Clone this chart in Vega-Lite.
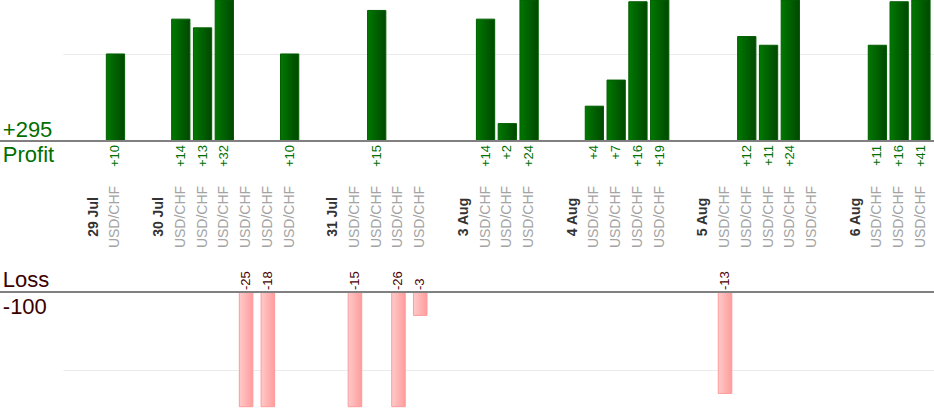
{
  "$schema": "https://vega.github.io/schema/vega-lite/v6.json",
  "width": 934,
  "height": 420,
  "padding": 0,
  "autosize": "none",
  "config": {
    "view": {"stroke": null},
    "font": "Liberation Sans",
    "text": {"font": "Liberation Sans"}
  },
  "data": {
    "values": [
      {"slot": 1, "kind": "day", "label": "29 Jul"},
      {"slot": 2, "kind": "trade", "label": "USD/CHF", "pnl": 10},
      {"slot": 4, "kind": "day", "label": "30 Jul"},
      {"slot": 5, "kind": "trade", "label": "USD/CHF", "pnl": 14},
      {"slot": 6, "kind": "trade", "label": "USD/CHF", "pnl": 13},
      {"slot": 7, "kind": "trade", "label": "USD/CHF", "pnl": 32},
      {"slot": 8, "kind": "trade", "label": "USD/CHF", "pnl": -25},
      {"slot": 9, "kind": "trade", "label": "USD/CHF", "pnl": -18},
      {"slot": 10, "kind": "trade", "label": "USD/CHF", "pnl": 10},
      {"slot": 12, "kind": "day", "label": "31 Jul"},
      {"slot": 13, "kind": "trade", "label": "USD/CHF", "pnl": -15},
      {"slot": 14, "kind": "trade", "label": "USD/CHF", "pnl": 15},
      {"slot": 15, "kind": "trade", "label": "USD/CHF", "pnl": -26},
      {"slot": 16, "kind": "trade", "label": "USD/CHF", "pnl": -3},
      {"slot": 18, "kind": "day", "label": "3 Aug"},
      {"slot": 19, "kind": "trade", "label": "USD/CHF", "pnl": 14},
      {"slot": 20, "kind": "trade", "label": "USD/CHF", "pnl": 2},
      {"slot": 21, "kind": "trade", "label": "USD/CHF", "pnl": 24},
      {"slot": 23, "kind": "day", "label": "4 Aug"},
      {"slot": 24, "kind": "trade", "label": "USD/CHF", "pnl": 4},
      {"slot": 25, "kind": "trade", "label": "USD/CHF", "pnl": 7},
      {"slot": 26, "kind": "trade", "label": "USD/CHF", "pnl": 16},
      {"slot": 27, "kind": "trade", "label": "USD/CHF", "pnl": 19},
      {"slot": 29, "kind": "day", "label": "5 Aug"},
      {"slot": 30, "kind": "trade", "label": "USD/CHF", "pnl": -13},
      {"slot": 31, "kind": "trade", "label": "USD/CHF", "pnl": 12},
      {"slot": 32, "kind": "trade", "label": "USD/CHF", "pnl": 11},
      {"slot": 33, "kind": "trade", "label": "USD/CHF", "pnl": 24},
      {"slot": 34, "kind": "trade", "label": "USD/CHF", "pnl": 0},
      {"slot": 36, "kind": "day", "label": "6 Aug"},
      {"slot": 37, "kind": "trade", "label": "USD/CHF", "pnl": 11},
      {"slot": 38, "kind": "trade", "label": "USD/CHF", "pnl": 16},
      {"slot": 39, "kind": "trade", "label": "USD/CHF", "pnl": 41}
    ]
  },
  "layer": [
    {
      "layer": [
        {
          "transform": [{"filter": "datum.pnl > 0"}],
          "mark": {
            "type": "bar",
            "fill": {
              "gradient": "linear",
              "x1": 0, "y1": 0, "x2": 1, "y2": 0,
              "stops": [
                {"offset": 0, "color": "#007800"},
                {"offset": 1, "color": "#004800"}
              ]
            },
            "stroke": "#005e00",
            "strokeWidth": 1
          },
          "encoding": {
            "x": {
              "field": "slot",
              "type": "ordinal",
              "axis": null,
              "scale": {
                "domain": [0, 1, 2, 3, 4, 5, 6, 7, 8, 9, 10, 11, 12, 13, 14, 15, 16, 17, 18, 19,
                           20, 21, 22, 23, 24, 25, 26, 27, 28, 29, 30, 31, 32, 33, 34, 35, 36, 37, 38, 39],
                "range": [62.8, 934],
                "paddingInner": 0.16,
                "paddingOuter": 0.09,
                "align": 0
              }
            },
            "y": {
              "field": "pnl",
              "type": "quantitative",
              "title": null,
              "scale": {"domain": [0, 16.2], "range": [141, 0], "clamp": true, "nice": false, "zero": true},
              "axis": {
                "orient": "left",
                "values": [10],
                "grid": true,
                "gridColor": "#ebebeb",
                "labels": false,
                "ticks": false,
                "domain": false,
                "title": null
              }
            }
          }
        },
        {
          "transform": [{"filter": "datum.pnl > 0"}],
          "mark": {"type": "text", "angle": 270, "align": "right", "baseline": "middle", "dx": -4, "fontSize": 13, "color": "#007000"},
          "encoding": {
            "x": {"field": "slot", "type": "ordinal"},
            "y": {"datum": 0, "type": "quantitative"},
            "text": {"field": "pnl", "type": "quantitative", "format": "+d"}
          }
        },
        {
          "transform": [{"filter": "datum.kind == 'day'"}],
          "mark": {"type": "text", "angle": 270, "align": "center", "baseline": "middle", "dx": -76, "fontSize": 14, "fontWeight": "bold", "color": "#333333"},
          "encoding": {
            "x": {"field": "slot", "type": "ordinal"},
            "y": {"datum": 0, "type": "quantitative"},
            "text": {"field": "label"}
          }
        },
        {
          "transform": [{"filter": "datum.kind == 'trade'"}],
          "mark": {"type": "text", "angle": 270, "align": "center", "baseline": "middle", "dx": -76, "fontSize": 14, "color": "#a3a3a3"},
          "encoding": {
            "x": {"field": "slot", "type": "ordinal"},
            "y": {"datum": 0, "type": "quantitative"},
            "text": {"field": "label"}
          }
        },
        {
          "mark": {"type": "rule", "color": "#808080", "strokeWidth": 1.5},
          "encoding": {"y": {"datum": 0, "type": "quantitative"}}
        },
        {
          "transform": [
            {"filter": "datum.pnl > 0"},
            {"aggregate": [{"op": "sum", "field": "pnl", "as": "total"}]}
          ],
          "encoding": {
            "x": {"datum": 0, "type": "ordinal", "bandPosition": 0},
            "y": {"datum": 0, "type": "quantitative"}
          },
          "layer": [
            {
              "mark": {"type": "text", "align": "left", "baseline": "alphabetic", "dx": -60, "dy": -4, "fontSize": 22, "color": "#006f00"},
              "encoding": {"text": {"field": "total", "type": "quantitative", "format": "+d"}}
            },
            {
              "mark": {"type": "text", "align": "left", "baseline": "alphabetic", "dx": -60, "dy": 21, "fontSize": 22, "color": "#006f00"},
              "encoding": {"text": {"value": "Profit"}}
            }
          ]
        }
      ]
    },
    {
      "layer": [
        {
          "transform": [{"filter": "datum.pnl < 0"}],
          "mark": {
            "type": "bar",
            "width": {"band": 0.74},
            "fill": {
              "gradient": "linear",
              "x1": 0, "y1": 0, "x2": 1, "y2": 0,
              "stops": [
                {"offset": 0, "color": "#ffcaca"},
                {"offset": 1, "color": "#ff9c9c"}
              ]
            },
            "stroke": "#ff9a9a",
            "strokeWidth": 1
          },
          "encoding": {
            "x": {"field": "slot", "type": "ordinal"},
            "y": {
              "field": "pnl",
              "type": "quantitative",
              "title": null,
              "scale": {"domain": [-14.7, 0], "range": [406.7, 292], "clamp": true, "nice": false, "zero": true},
              "axis": {
                "orient": "left",
                "values": [-10],
                "grid": true,
                "gridColor": "#ebebeb",
                "labels": false,
                "ticks": false,
                "domain": false,
                "title": null
              }
            }
          }
        },
        {
          "transform": [{"filter": "datum.pnl < 0"}],
          "mark": {"type": "text", "angle": 270, "align": "left", "baseline": "middle", "dx": 2, "fontSize": 13, "color": "#4a0000"},
          "encoding": {
            "x": {"field": "slot", "type": "ordinal"},
            "y": {"datum": 0, "type": "quantitative"},
            "text": {"field": "pnl", "type": "nominal"}
          }
        },
        {
          "mark": {"type": "rule", "color": "#808080", "strokeWidth": 1.5},
          "encoding": {"y": {"datum": 0, "type": "quantitative"}}
        },
        {
          "transform": [
            {"filter": "datum.pnl < 0"},
            {"aggregate": [{"op": "sum", "field": "pnl", "as": "total"}]}
          ],
          "encoding": {
            "x": {"datum": 0, "type": "ordinal", "bandPosition": 0},
            "y": {"datum": 0, "type": "quantitative"}
          },
          "layer": [
            {
              "mark": {"type": "text", "align": "left", "baseline": "alphabetic", "dx": -60, "dy": -5, "fontSize": 22, "color": "#3a0000"},
              "encoding": {"text": {"value": "Loss"}}
            },
            {
              "mark": {"type": "text", "align": "left", "baseline": "alphabetic", "dx": -60, "dy": 22, "fontSize": 22, "color": "#3a0000"},
              "encoding": {"text": {"field": "total", "type": "nominal"}}
            }
          ]
        }
      ]
    }
  ],
  "resolve": {"scale": {"y": "independent"}, "axis": {"y": "independent"}}
}
